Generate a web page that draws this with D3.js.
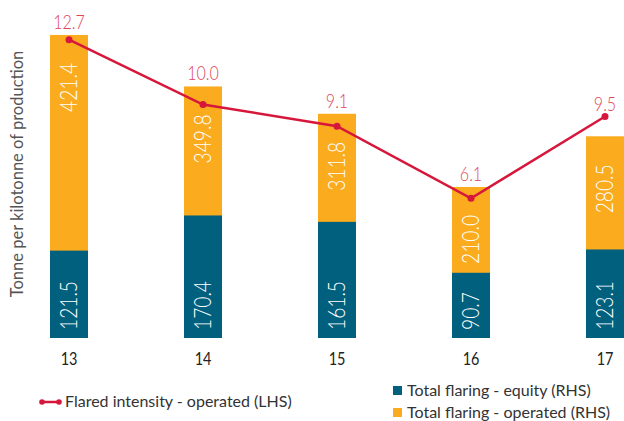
<!DOCTYPE html>
<html>
<head>
<meta charset="utf-8">
<script src="https://cdn.jsdelivr.net/npm/d3@7"></script>
<style>
  body { margin: 0; background: #fff; }
  svg { display: block; font-family: Lato, "Open Sans", sans-serif; }
</style>
</head>
<body>
<svg id="chart"></svg>
<script>
// chart data
const years = ["13", "14", "15", "16", "17"]
const equity = [121.5, 170.4, 161.5, 90.7, 123.1]
const operated = [421.4, 349.8, 311.8, 210.0, 280.5]
const intensity = [12.7, 10.0, 9.1, 6.1, 9.5]
const legendLine = "Flared intensity - operated (LHS)"
const legendBars = ["Total flaring - equity (RHS)", "Total flaring - operated (RHS)"]
const yTitle = "Tonne per kilotonne of production"

const W = 624, H = 421
const orange = "#fbab1e", teal = "#00607e", red = "#d6173b", redText = "#e0465a"
const squeeze = 0.8

const svg = d3.select("#chart").attr("width", W).attr("height", H)

// scales
const x = d3.scalePoint().domain(years).range([69, 605])
const yR = d3.scaleLinear().domain([0, 470]).range([338, 0])
const yL = d3.scaleLinear().domain([0, 14.35]).range([344.8, 0])
const bw = 38

const rows = years.map((y, i) => ({ y, eq: equity[i], op: operated[i], inten: intensity[i] }))

// operated bars behind, equity in front
svg.append("g").selectAll("rect").data(rows).join("rect")
  .attr("x", d => x(d.y) - bw / 2).attr("width", bw)
  .attr("y", d => yR(d.op)).attr("height", d => yR(0) - yR(d.op))
  .attr("fill", orange)
svg.append("g").selectAll("rect").data(rows).join("rect")
  .attr("x", d => x(d.y) - bw / 2).attr("width", bw)
  .attr("y", d => yR(d.eq)).attr("height", d => yR(0) - yR(d.eq))
  .attr("fill", teal)

// rotated value labels inside bars
svg.append("g").selectAll("text").data(rows).join("text")
  .attr("transform", d => `translate(${x(d.y) + 8},${yR(0) - 8}) rotate(-90) scale(${squeeze},1)`)
  .attr("fill", "#fff").attr("font-size", 24).attr("font-weight", 300)
  .text(d => d.eq.toFixed(1))
svg.append("g").selectAll("text").data(rows).join("text")
  .attr("transform", d => `translate(${x(d.y) + 8},${yR(d.op) + 28}) rotate(-90) scale(${squeeze},1)`)
  .attr("text-anchor", "end")
  .attr("fill", "#fff").attr("font-size", 24).attr("font-weight", 300)
  .text(d => d.op.toFixed(1))

// intensity line
const line = d3.line().x(d => x(d.y)).y(d => yL(d.inten))
svg.append("path").datum(rows)
  .attr("d", line).attr("fill", "none")
  .attr("stroke", red).attr("stroke-width", 2.5)
svg.append("g").selectAll("circle").data(rows).join("circle")
  .attr("cx", d => x(d.y)).attr("cy", d => yL(d.inten)).attr("r", 3.5)
  .attr("fill", red)

// intensity labels above point or bar, whichever is higher
svg.append("g").selectAll("text").data(rows).join("text")
  .attr("transform", d => `translate(${x(d.y)},${Math.min(yL(d.inten), yR(d.op)) - 6}) scale(${squeeze},1)`)
  .attr("text-anchor", "middle")
  .attr("fill", redText).attr("font-size", 20).attr("font-weight", 300)
  .text(d => d.inten.toFixed(1))

// category labels
svg.append("g").selectAll("text").data(years).join("text")
  .attr("transform", d => `translate(${x(d)},365) scale(0.85,1)`)
  .attr("text-anchor", "middle")
  .attr("fill", "#222").attr("font-size", 17)
  .text(d => d)

// y-axis title
svg.append("text")
  .attr("transform", `translate(23,174) rotate(-90)`)
  .attr("text-anchor", "middle")
  .attr("fill", "#555").attr("font-size", 16.5)
  .text(yTitle)

// legend: line series
const lg = svg.append("g")
lg.append("line").attr("x1", 42).attr("x2", 59).attr("y1", 402).attr("y2", 402)
  .attr("stroke", red).attr("stroke-width", 2.5)
lg.selectAll("circle").data([42, 59]).join("circle")
  .attr("cx", d => d).attr("cy", 402).attr("r", 2.8).attr("fill", red)
lg.append("text")
  .attr("x", 65).attr("y", 407)
  .attr("fill", "#333").attr("font-size", 16)
  .text(legendLine)

// legend: bar series
const bl = svg.append("g").selectAll("g").data(legendBars).join("g")
  .attr("transform", (d, i) => `translate(393,${386 + i * 22})`)
bl.append("rect").attr("width", 9).attr("height", 9)
  .attr("fill", (d, i) => i === 0 ? teal : orange)
bl.append("text")
  .attr("x", 14).attr("y", 10)
  .attr("fill", "#333").attr("font-size", 16)
  .text(d => d)
</script>
</body>
</html>
